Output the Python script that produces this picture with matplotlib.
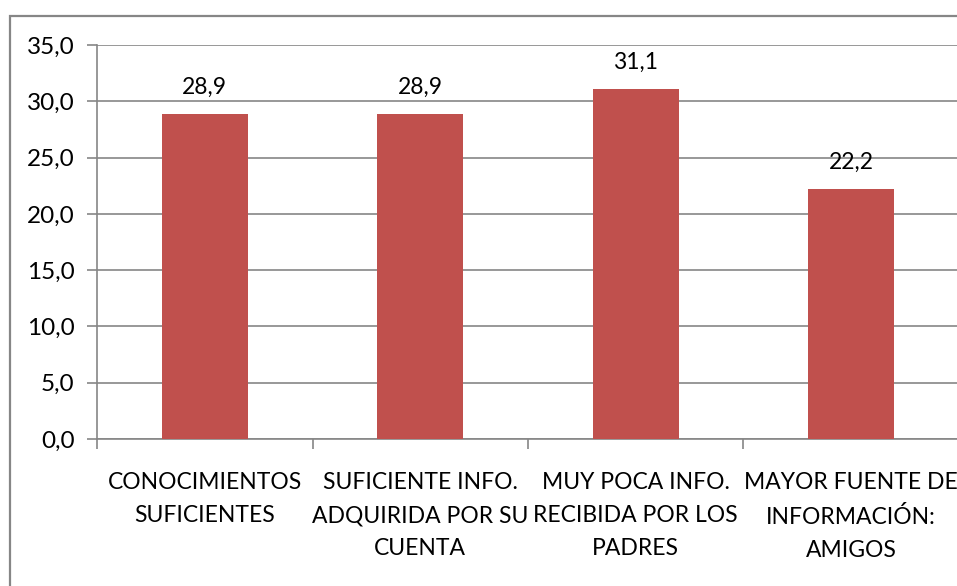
import numpy as np
import matplotlib.pyplot as plt
from matplotlib.patches import Rectangle

categorias = ["CONOCIMIENTOS\nSUFICIENTES",
              "SUFICIENTE INFO.\nADQUIRIDA POR SU\nCUENTA",
              "MUY POCA INFO.\nRECIBIDA POR LOS\nPADRES",
              "MAYOR FUENTE DE\nINFORMACIÓN:\nAMIGOS"]
valores = [28.9, 28.9, 31.1, 22.2]
yticks = [0, 5, 10, 15, 20, 25, 30, 35]

plt.rcParams['font.family'] = ['Lato', 'DejaVu Sans']
gris = "#868686"

fig = plt.figure(figsize=(9.57, 5.86), dpi=100)
# marco exterior del grafico
fig.patches.append(Rectangle((10/957, -0.1), 1.2, 1.1 - 16/586, transform=fig.transFigure,
                             fill=False, edgecolor=gris, linewidth=1.6, zorder=0))

ax = fig.add_axes([97/957, 147/586, 862/957, 394/586])
x = np.arange(len(valores))
ax.bar(x, valores, width=0.4, color="#C0504D", zorder=3)
for xi, v in zip(x, valores):
    ax.text(xi, v + 1.4, f"{v:.1f}".replace(".", ","), ha="center", va="bottom", fontsize=16.5)

ax.set_xlim(-0.5, len(valores) - 0.5)
ax.set_ylim(0, 35)
ax.set_yticks(yticks)
ax.set_yticklabels([f"{t:.1f}".replace(".", ",") for t in yticks], fontsize=17.5)
ax.yaxis.grid(True, color=gris, linewidth=1.2, zorder=0)
ax.set_xticks(x)
ax.set_xticklabels(categorias, fontsize=16.5, linespacing=1.7)
ax.set_xticks(np.arange(len(valores) + 1) - 0.5, minor=True)
ax.tick_params(axis="x", which="major", length=0, pad=24)
ax.tick_params(axis="x", which="minor", length=7, color=gris, width=1.2)
ax.tick_params(axis="y", length=7, color=gris, width=1.2, pad=9)
for s in ["top", "right"]:
    ax.spines[s].set_visible(False)
for s in ["left", "bottom"]:
    ax.spines[s].set_color(gris)
    ax.spines[s].set_linewidth(1.2)

fig.savefig("out.png", dpi=100)
plt.close()
